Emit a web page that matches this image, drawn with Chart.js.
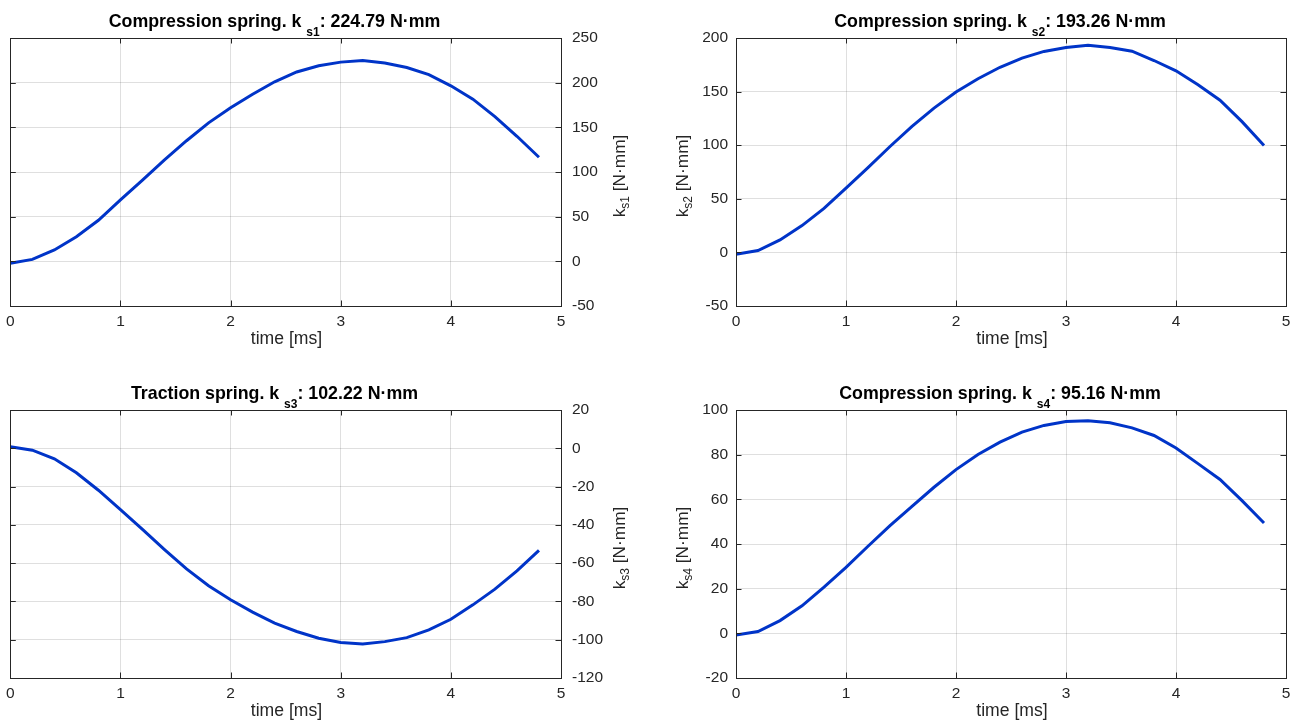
<!DOCTYPE html>
<html>
<head>
<meta charset="utf-8">
<script src="https://cdn.jsdelivr.net/npm/chart.js@4.4.0/dist/chart.umd.min.js"></script>
<style>
  body { margin: 0; background: #fff; width: 1305px; height: 725px; overflow: hidden; position: relative; }
  canvas { position: absolute; }
</style>
</head>
<body>
<canvas id="c1" width="652" height="362" style="left:0;top:0"></canvas>
<canvas id="c2" width="653" height="362" style="left:652px;top:0"></canvas>
<canvas id="c3" width="652" height="363" style="left:0;top:362px"></canvas>
<canvas id="c4" width="653" height="363" style="left:652px;top:362px"></canvas>
<script>
// time samples [ms]
const timeMs = [0, 0.2, 0.4, 0.6, 0.8, 1.0, 1.2, 1.4, 1.6, 1.8, 2.0, 2.2, 2.4,
                2.6, 2.8, 3.0, 3.2, 3.4, 3.6, 3.8, 4.0, 4.2, 4.4, 4.6, 4.8]

// spring torques [N·mm]
const ks1 = [-2.2, 2.2, 12.7, 27.6, 46, 68.7, 91, 113.6, 135, 155, 172, 187, 201,
             212, 219, 223, 224.8, 222, 217, 209, 196.5, 181.5, 162, 140, 116.5]
const ks2 = [-1.7, 1.7, 11.6, 25, 41, 60, 79, 98.8, 117.5, 134.6, 149.6, 162, 172.7,
             181.3, 187.5, 191.2, 193.3, 191.2, 187.7, 179, 169.4, 156.3, 142, 122, 99.8]
const ks3 = [0.8, -1, -5.5, -12.8, -21.9, -32, -42.4, -52.9, -63, -71.8, -79.1, -85.6, -91.3,
             -95.7, -99.2, -101.5, -102.2, -101, -98.9, -94.9, -89.3, -81.8, -73.6, -64, -53.3]
const ks4 = [-0.7, 0.8, 5.7, 12.3, 20.7, 29.5, 39, 48.2, 56.9, 65.4, 73.3, 80.1, 85.6,
             90.1, 93.1, 94.8, 95.2, 94.3, 92, 88.6, 83, 76, 68.9, 59.4, 49.4]

// tick labels
const xTicks = [0, 1, 2, 3, 4, 5]
const ks1Ticks = [-50, 0, 50, 100, 150, 200, 250]
const ks2Ticks = [-50, 0, 50, 100, 150, 200]
const ks3Ticks = [-120, -100, -80, -60, -40, -20, 0, 20]
const ks4Ticks = [-20, 0, 20, 40, 60, 80, 100]

const FONT = '"Liberation Sans", Arial, Helvetica, sans-serif'
const TXT = '#262626'
const LINE = 'rgb(0, 52, 200)'
const GRID = 'rgba(38, 38, 38, 0.15)'

// draw text pieces with subscripts, centred on 0 along the baseline
function drawRich(ctx, parts, x, y, rot) {
  ctx.save()
  ctx.translate(x, y)
  if (rot) ctx.rotate(rot)
  ctx.textBaseline = 'alphabetic'
  ctx.textAlign = 'left'
  let total = 0
  parts.forEach(p => { ctx.font = p.font; p.w = ctx.measureText(p.t).width; total += p.w })
  let cx = -total / 2
  parts.forEach(p => {
    ctx.font = p.font
    ctx.fillStyle = p.color
    ctx.fillText(p.t, cx, p.dy || 0)
    cx += p.w
  })
  ctx.restore()
}

const framePlugin = {
  id: 'frame',
  afterDatasetsDraw(chart) {
    const { ctx, chartArea: a, scales } = chart
    const tl = 5.5
    ctx.save()
    ctx.strokeStyle = TXT
    ctx.lineWidth = 1
    ctx.beginPath()
    scales.x.ticks.forEach(t => {
      const px = Math.round(scales.x.getPixelForValue(t.value)) + 0.5
      ctx.moveTo(px, a.bottom); ctx.lineTo(px, a.bottom - tl)
      ctx.moveTo(px, a.top); ctx.lineTo(px, a.top + tl)
    })
    scales.y.ticks.forEach(t => {
      const py = Math.round(scales.y.getPixelForValue(t.value)) + 0.5
      ctx.moveTo(a.left, py); ctx.lineTo(a.left + tl, py)
      ctx.moveTo(a.right, py); ctx.lineTo(a.right - tl, py)
    })
    ctx.stroke()
    ctx.strokeRect(Math.round(a.left) + 0.5, Math.round(a.top) + 0.5,
                   Math.round(a.right - a.left), Math.round(a.bottom - a.top))
    ctx.restore()
  }
}

function makeChart(cfg) {
  const canvas = document.getElementById(cfg.id)
  const W = canvas.width, H = canvas.height
  const a = cfg.area
  const yRight = cfg.yPos === 'right'
  const yTicks = cfg.yTicks

  const textPlugin = {
    id: 'texts',
    afterDraw(chart) {
      const ctx = chart.ctx
      const mid = (a.l + a.r) / 2
      drawRich(ctx, [
        { t: cfg.titleHead + ' k ', font: 'bold 17.8px ' + FONT, color: '#000' },
        { t: cfg.sub, font: 'bold 12px ' + FONT, color: '#000', dy: 9.3 },
        { t: ': ' + cfg.titleValue + ' N·mm', font: 'bold 17.8px ' + FONT, color: '#000' }
      ], mid - 11, cfg.titleY)
      drawRich(ctx, [
        { t: 'time [ms]', font: '17.6px ' + FONT, color: TXT }
      ], mid + 1, cfg.xLabelY)
      drawRich(ctx, [
        { t: 'k', font: '17.3px ' + FONT, color: TXT },
        { t: cfg.sub, font: '12px ' + FONT, color: TXT, dy: 4 },
        { t: ' [N·mm]', font: '17.3px ' + FONT, color: TXT }
      ], cfg.yLabelX, (a.t + a.b) / 2 + 4, -Math.PI / 2)
    }
  }

  new Chart(canvas, {
    type: 'line',
    data: {
      datasets: [{
        data: timeMs.map((t, i) => ({ x: t, y: cfg.values[i] })),
        borderColor: LINE,
        borderWidth: 3,
        pointRadius: 0,
        tension: 0,
        fill: false
      }]
    },
    options: {
      responsive: false,
      animation: false,
      events: [],
      layout: {
        padding: { left: yRight ? a.l : 0, right: yRight ? 0 : W - a.r, top: a.t, bottom: 0 }
      },
      plugins: {
        legend: { display: false },
        tooltip: { enabled: false }
      },
      scales: {
        x: {
          type: 'linear',
          min: xTicks[0],
          max: xTicks[xTicks.length - 1],
          afterBuildTicks: s => { s.ticks = xTicks.map(v => ({ value: v })) },
          afterFit: s => { s.height = H - a.b },
          grid: { color: GRID, drawTicks: false },
          border: { display: false },
          ticks: { color: TXT, font: { family: FONT, size: 15.5 }, padding: 6, maxRotation: 0, autoSkip: false }
        },
        y: {
          type: 'linear',
          position: cfg.yPos,
          min: yTicks[0],
          max: yTicks[yTicks.length - 1],
          afterBuildTicks: s => { s.ticks = yTicks.map(v => ({ value: v })) },
          afterFit: s => { s.width = yRight ? W - a.r : a.l },
          grid: { color: GRID, drawTicks: false },
          border: { display: false },
          ticks: { color: TXT, font: { family: FONT, size: 15.5 }, padding: yRight ? 11 : 8, autoSkip: false }
        }
      }
    },
    plugins: [framePlugin, textPlugin]
  })
}

makeChart({ id: 'c1', area: { l: 10, t: 38, r: 561, b: 306 }, yPos: 'right', values: ks1, yTicks: ks1Ticks,
  titleHead: 'Compression spring.', sub: 's1', titleValue: '224.79', titleY: 27, xLabelY: 344, yLabelX: 625 })
makeChart({ id: 'c2', area: { l: 84, t: 38, r: 634, b: 306 }, yPos: 'left', values: ks2, yTicks: ks2Ticks,
  titleHead: 'Compression spring.', sub: 's2', titleValue: '193.26', titleY: 27, xLabelY: 344, yLabelX: 36 })
makeChart({ id: 'c3', area: { l: 10, t: 48, r: 561, b: 316 }, yPos: 'right', values: ks3, yTicks: ks3Ticks,
  titleHead: 'Traction spring.', sub: 's3', titleValue: '102.22', titleY: 37, xLabelY: 354, yLabelX: 625 })
makeChart({ id: 'c4', area: { l: 84, t: 48, r: 634, b: 316 }, yPos: 'left', values: ks4, yTicks: ks4Ticks,
  titleHead: 'Compression spring.', sub: 's4', titleValue: '95.16', titleY: 37, xLabelY: 354, yLabelX: 36 })
</script>
</body>
</html>
